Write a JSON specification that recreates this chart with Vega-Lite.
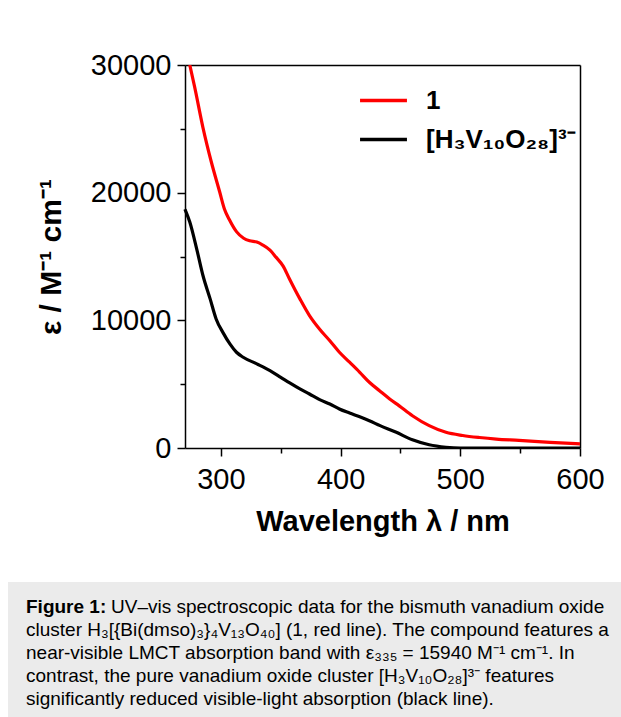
{
  "$schema": "https://vega.github.io/schema/vega-lite/v6.json",
  "background": "white",
  "padding": {"left": 8, "top": 51, "right": 0, "bottom": 0},
  "spacing": 46,
  "config": {"font": "Liberation Sans"},
  "vconcat": [
    {
      "width": 572,
      "height": 383,
      "view": {"stroke": null},
      "data": {"values": [
        {"w": 274, "e": 30000, "s": "1"}, {"w": 278, "e": 28300, "s": "1"}, {"w": 285, "e": 25100, "s": "1"},
        {"w": 292, "e": 22400, "s": "1"}, {"w": 299, "e": 20050, "s": "1"}, {"w": 303, "e": 18700, "s": "1"},
        {"w": 307, "e": 17900, "s": "1"}, {"w": 313, "e": 16950, "s": "1"}, {"w": 319, "e": 16430, "s": "1"},
        {"w": 324, "e": 16230, "s": "1"}, {"w": 330, "e": 16130, "s": "1"}, {"w": 335, "e": 15900, "s": "1"},
        {"w": 341, "e": 15500, "s": "1"}, {"w": 346, "e": 14950, "s": "1"}, {"w": 352, "e": 14250, "s": "1"},
        {"w": 357, "e": 13300, "s": "1"}, {"w": 366, "e": 11680, "s": "1"}, {"w": 374, "e": 10370, "s": "1"},
        {"w": 382.5, "e": 9300, "s": "1"}, {"w": 391, "e": 8400, "s": "1"}, {"w": 399, "e": 7500, "s": "1"},
        {"w": 407.5, "e": 6720, "s": "1"}, {"w": 416, "e": 5930, "s": "1"}, {"w": 424, "e": 5150, "s": "1"},
        {"w": 432.5, "e": 4490, "s": "1"}, {"w": 441, "e": 3840, "s": "1"}, {"w": 449, "e": 3300, "s": "1"},
        {"w": 460, "e": 2530, "s": "1"}, {"w": 474, "e": 1750, "s": "1"}, {"w": 488, "e": 1230, "s": "1"},
        {"w": 502, "e": 980, "s": "1"}, {"w": 516, "e": 820, "s": "1"}, {"w": 530, "e": 700, "s": "1"},
        {"w": 549, "e": 600, "s": "1"}, {"w": 575, "e": 440, "s": "1"}, {"w": 600, "e": 320, "s": "1"},
        {"w": 270, "e": 18700, "s": "[H₃V₁₀O₂₈]³⁻"}, {"w": 274, "e": 17700, "s": "[H₃V₁₀O₂₈]³⁻"},
        {"w": 280, "e": 15500, "s": "[H₃V₁₀O₂₈]³⁻"}, {"w": 285, "e": 13510, "s": "[H₃V₁₀O₂₈]³⁻"},
        {"w": 291, "e": 11680, "s": "[H₃V₁₀O₂₈]³⁻"}, {"w": 296, "e": 10110, "s": "[H₃V₁₀O₂₈]³⁻"},
        {"w": 302, "e": 9000, "s": "[H₃V₁₀O₂₈]³⁻"}, {"w": 307.5, "e": 8150, "s": "[H₃V₁₀O₂₈]³⁻"},
        {"w": 313, "e": 7500, "s": "[H₃V₁₀O₂₈]³⁻"}, {"w": 318.6, "e": 7110, "s": "[H₃V₁₀O₂₈]³⁻"},
        {"w": 330, "e": 6590, "s": "[H₃V₁₀O₂₈]³⁻"}, {"w": 341, "e": 6060, "s": "[H₃V₁₀O₂₈]³⁻"},
        {"w": 350, "e": 5540, "s": "[H₃V₁₀O₂₈]³⁻"}, {"w": 357.5, "e": 5100, "s": "[H₃V₁₀O₂₈]³⁻"},
        {"w": 366, "e": 4630, "s": "[H₃V₁₀O₂₈]³⁻"}, {"w": 374, "e": 4230, "s": "[H₃V₁₀O₂₈]³⁻"},
        {"w": 382.5, "e": 3790, "s": "[H₃V₁₀O₂₈]³⁻"}, {"w": 391, "e": 3450, "s": "[H₃V₁₀O₂₈]³⁻"},
        {"w": 399, "e": 3060, "s": "[H₃V₁₀O₂₈]³⁻"}, {"w": 407.5, "e": 2740, "s": "[H₃V₁₀O₂₈]³⁻"},
        {"w": 416, "e": 2440, "s": "[H₃V₁₀O₂₈]³⁻"}, {"w": 424, "e": 2140, "s": "[H₃V₁₀O₂₈]³⁻"},
        {"w": 433, "e": 1750, "s": "[H₃V₁₀O₂₈]³⁻"}, {"w": 446, "e": 1250, "s": "[H₃V₁₀O₂₈]³⁻"},
        {"w": 460, "e": 640, "s": "[H₃V₁₀O₂₈]³⁻"}, {"w": 474, "e": 250, "s": "[H₃V₁₀O₂₈]³⁻"},
        {"w": 488, "e": 60, "s": "[H₃V₁₀O₂₈]³⁻"}, {"w": 500, "e": 0, "s": "[H₃V₁₀O₂₈]³⁻"},
        {"w": 530, "e": 0, "s": "[H₃V₁₀O₂₈]³⁻"}, {"w": 600, "e": 0, "s": "[H₃V₁₀O₂₈]³⁻"}
      ]},
      "resolve": {"axis": {"x": "independent", "y": "independent"}},
      "layer": [
        {
          "mark": {"type": "line", "strokeWidth": 3.2, "clip": true, "interpolate": "monotone"},
          "encoding": {
            "x": {
              "field": "w", "type": "quantitative",
              "scale": {"domain": [270, 600], "range": [177, 572], "nice": false, "zero": false},
              "axis": {
                "values": [300, 350, 400, 450, 500, 550, 600],
                "labelExpr": "datum.value % 100 === 0 ? format(datum.value, 'd') : ''",
                "grid": false, "domainColor": "black", "domainWidth": 1.5,
                "tickColor": "black", "tickWidth": 1.5,
                "tickSize": {"condition": {"test": "datum.value % 100 === 0", "value": 8}, "value": 5},
                "labelFontSize": 29, "labelColor": "black", "labelPadding": 9, "labelFlush": false, "labelOverlap": false,
                "title": "Wavelength λ / nm", "titleFontSize": 29, "titleFontWeight": "bold", "titleColor": "black", "titlePadding": 13
              }
            },
            "y": {
              "field": "e", "type": "quantitative",
              "scale": {"domain": [0, 30000], "nice": false},
              "axis": {
                "offset": -177,
                "values": [0, 5000, 10000, 15000, 20000, 25000, 30000],
                "labelExpr": "datum.value % 10000 === 0 ? format(datum.value, 'd') : ''",
                "grid": false, "domainColor": "black", "domainWidth": 1.5,
                "tickColor": "black", "tickWidth": 1.5,
                "tickSize": {"condition": {"test": "datum.value % 10000 === 0", "value": 8}, "value": 5},
                "labelFontSize": 29, "labelColor": "black", "labelPadding": 6, "labelFlush": false, "labelOverlap": false,
                "title": "ε / M⁻¹ cm⁻¹", "titleFontSize": 30, "titleFontWeight": "bold", "titleColor": "black", "titlePadding": 24
              }
            },
            "color": {
              "field": "s", "type": "nominal",
              "scale": {"domain": ["1", "[H₃V₁₀O₂₈]³⁻"], "range": ["#ff0000", "#000000"]},
              "legend": {
                "orient": "none", "legendX": 350, "legendY": 10, "title": null, "padding": 0,
                "symbolType": "stroke", "symbolSize": 2200, "symbolStrokeWidth": 3.5,
                "labelFontSize": 26, "labelFontWeight": "bold", "labelColor": "black", "labelOffset": 17,
                "rowPadding": -6, "labelLimit": 300
              }
            }
          }
        },
        {
          "mark": {"type": "line", "strokeOpacity": 0, "clip": true},
          "encoding": {
            "x": {
              "field": "w", "type": "quantitative",
              "scale": {"domain": [270, 600], "range": [177, 572], "nice": false, "zero": false},
              "axis": {"orient": "top", "labels": false, "ticks": false, "title": null, "grid": false, "domainColor": "black", "domainWidth": 1.5}
            },
            "y": {
              "field": "e", "type": "quantitative",
              "scale": {"domain": [0, 30000], "nice": false},
              "axis": {"orient": "right", "labels": false, "ticks": false, "title": null, "grid": false, "domainColor": "black", "domainWidth": 1.5}
            },
            "detail": {"field": "s"}
          }
        }
      ]
    },
    {
      "width": 613,
      "height": 135,
      "view": {"fill": "#ebebeb", "stroke": null},
      "data": {"values": [
        {"line": 1, "part": "bold", "text": "Figure 1:"},
        {"line": 1, "part": "rest", "text": "UV–vis spectroscopic data for the bismuth vanadium oxide"},
        {"line": 2, "part": "body", "text": "cluster H₃[{Bi(dmso)₃}₄V₁₃O₄₀] (1, red line). The compound features a"},
        {"line": 3, "part": "body", "text": "near-visible LMCT absorption band with ε₃₃₅ = 15940 M⁻¹ cm⁻¹. In"},
        {"line": 4, "part": "body", "text": "contrast, the pure vanadium oxide cluster [H₃V₁₀O₂₈]³⁻ features"},
        {"line": 5, "part": "body", "text": "significantly reduced visible-light absorption (black line)."}
      ]},
      "encoding": {
        "y": {"field": "line", "type": "quantitative", "scale": {"domain": [-0.087, 5.783], "reverse": true, "nice": false, "zero": false}, "axis": null},
        "x": {"value": 18},
        "text": {"field": "text"}
      },
      "layer": [
        {"transform": [{"filter": "datum.part === 'bold'"}], "mark": {"type": "text", "align": "left", "baseline": "middle", "fontSize": 19, "fontWeight": "bold", "color": "black"}},
        {"transform": [{"filter": "datum.part === 'rest'"}], "mark": {"type": "text", "align": "left", "baseline": "middle", "fontSize": 19, "dx": 85, "color": "black"}},
        {"transform": [{"filter": "datum.part === 'body'"}], "mark": {"type": "text", "align": "left", "baseline": "middle", "fontSize": 19, "color": "black"}}
      ]
    }
  ]
}
